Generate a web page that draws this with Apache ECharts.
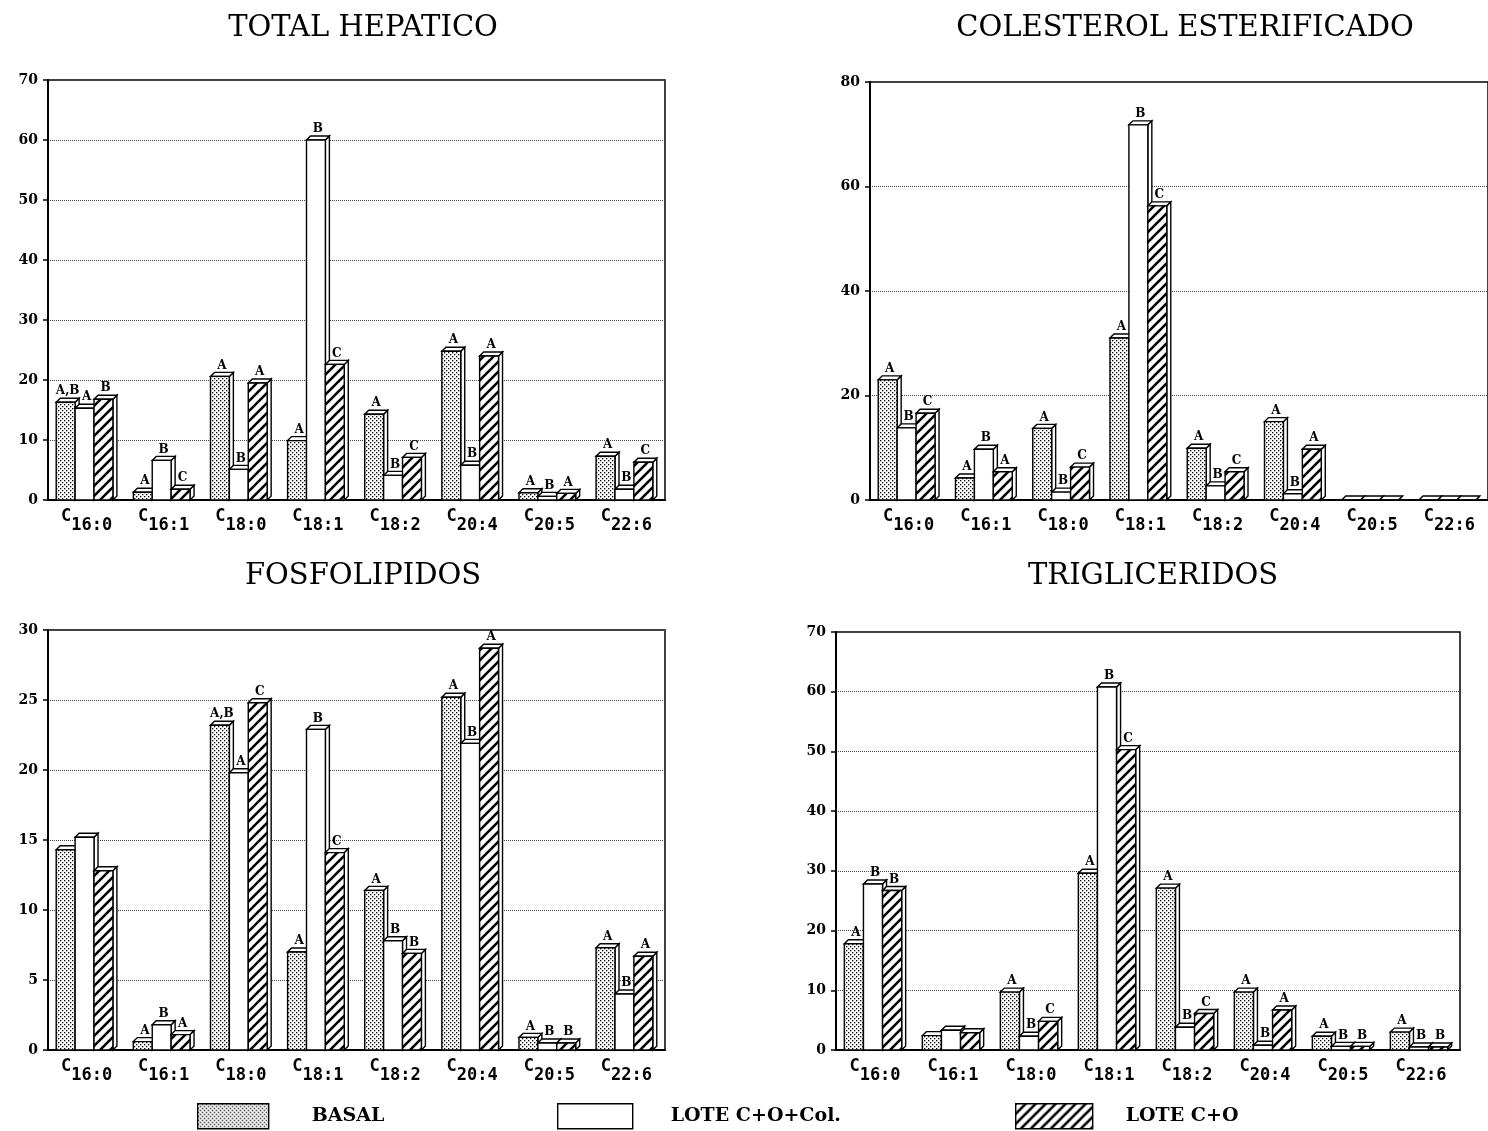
<!DOCTYPE html>
<html>
<head>
<meta charset="utf-8">
<script src="https://cdn.jsdelivr.net/npm/echarts@6/dist/echarts.min.js"></script>
<style>
  html, body { margin: 0; padding: 0; background: #fff; }
  #chart { width: 1488px; height: 1131px; }
</style>
</head>
<body>
<div id="chart"></div>
<script>
// ---------- DATA ----------
const categories = ['C16:0', 'C16:1', 'C18:0', 'C18:1', 'C18:2', 'C20:4', 'C20:5', 'C22:6'];
const seriesNames = ['BASAL', 'LOTE C+O+Col.', 'LOTE C+O'];
const panelTitles = ['TOTAL HEPATICO', 'COLESTEROL ESTERIFICADO', 'FOSFOLIPIDOS', 'TRIGLICERIDOS'];

// Panel 1: TOTAL HEPATICO
const hepBasal = [16.3, 1.3, 20.6, 9.9, 14.3, 24.8, 1.2, 7.3];
const hepCol   = [15.3, 6.6, 5.1, 60.0, 4.1, 5.8, 0.6, 1.8];
const hepCO    = [16.8, 1.8, 19.5, 22.6, 7.1, 24.0, 1.1, 6.3];
const hepBasalLet = ['A,B', 'A', 'A', 'A', 'A', 'A', 'A', 'A'];
const hepColLet   = ['A', 'B', 'B', 'B', 'B', 'B', 'B', 'B'];
const hepCOLet    = ['B', 'C', 'A', 'C', 'C', 'A', 'A', 'C'];

// Panel 2: COLESTEROL ESTERIFICADO
const ceBasal = [23.0, 4.2, 13.7, 31.0, 9.9, 15.0, 0, 0];
const ceCol   = [13.8, 9.7, 1.5, 71.8, 2.7, 1.2, 0, 0];
const ceCO    = [16.6, 5.4, 6.3, 56.3, 5.4, 9.7, 0, 0];
const ceBasalLet = ['A', 'A', 'A', 'A', 'A', 'A', '', ''];
const ceColLet   = ['B', 'B', 'B', 'B', 'B', 'B', '', ''];
const ceCOLet    = ['C', 'A', 'C', 'C', 'C', 'A', '', ''];

// Panel 3: FOSFOLIPIDOS
const fosBasal = [14.3, 0.6, 23.2, 7.0, 11.4, 25.2, 0.9, 7.3];
const fosCol   = [15.2, 1.8, 19.8, 22.9, 7.8, 21.9, 0.5, 4.0];
const fosCO    = [12.8, 1.1, 24.8, 14.1, 6.9, 28.7, 0.5, 6.7];
const fosBasalLet = ['', 'A', 'A,B', 'A', 'A', 'A', 'A', 'A'];
const fosColLet   = ['', 'B', 'A', 'B', 'B', 'B', 'B', 'B'];
const fosCOLet    = ['', 'A', 'C', 'C', 'B', 'A', 'B', 'A'];

// Panel 4: TRIGLICERIDOS
const triBasal = [17.8, 2.4, 9.7, 29.6, 27.1, 9.7, 2.3, 3.0];
const triCol   = [27.8, 3.3, 2.3, 60.8, 3.8, 0.8, 0.6, 0.5];
const triCO    = [26.7, 2.9, 4.8, 50.3, 6.1, 6.7, 0.6, 0.5];
const triBasalLet = ['A', '', 'A', 'A', 'A', 'A', 'A', 'A'];
const triColLet   = ['B', '', 'B', 'B', 'B', 'B', 'B', 'B'];
const triCOLet    = ['B', '', 'C', 'C', 'C', 'A', 'B', 'B'];

const yMax = [70, 80, 30, 70];
const yInterval = [10, 20, 5, 10];

// ---------- PATTERNS ----------
function dotPattern() {
  const c = document.createElement('canvas'); c.width = 4; c.height = 4;
  const g = c.getContext('2d');
  g.fillStyle = '#fff'; g.fillRect(0, 0, 4, 4);
  g.fillStyle = '#000'; g.fillRect(0, 0, 1.3, 1.3); g.fillRect(2, 2, 1.3, 1.3);
  return { image: c, repeat: 'repeat' };
}
function hatchPattern() {
  const s = 10;
  const c = document.createElement('canvas'); c.width = s; c.height = s;
  const g = c.getContext('2d');
  g.fillStyle = '#fff'; g.fillRect(0, 0, s, s);
  g.strokeStyle = '#000'; g.lineWidth = 2.6;
  g.beginPath();
  g.moveTo(-1, s + 1); g.lineTo(s + 1, -1);
  g.moveTo(-s / 2 - 1, s / 2 + 1); g.lineTo(s / 2 + 1, -s / 2 - 1);
  g.moveTo(s / 2 - 1, 1.5 * s + 1); g.lineTo(1.5 * s + 1, s / 2 - 1);
  g.stroke();
  return { image: c, repeat: 'repeat' };
}
const fills = [dotPattern(), '#ffffff', hatchPattern()];

// ---------- BUILD ----------
const panels = [
  [hepBasal, hepCol, hepCO, hepBasalLet, hepColLet, hepCOLet],
  [ceBasal, ceCol, ceCO, ceBasalLet, ceColLet, ceCOLet],
  [fosBasal, fosCol, fosCO, fosBasalLet, fosColLet, fosCOLet],
  [triBasal, triCol, triCO, triBasalLet, triColLet, triCOLet]
];

const grids = [
  { left: 48, top: 80, width: 617, height: 420 },
  { left: 870, top: 82, right: 0, height: 418 },
  { left: 48, top: 630, width: 617, height: 420 },
  { left: 836, top: 632, width: 624, height: 418 }
];

function makeRender(k, letters) {
  return function (params, api) {
    const ci = api.value(0), v = api.value(1);
    const top = api.coord([ci, v]);
    const base = api.coord([ci, 0]);
    const band = api.size([1, 0])[0];
    const w = band * 0.245, d = 4;
    const x = top[0] + (k - 1.5) * w - d / 2;
    const yT = top[1], y0 = base[1];
    const lineStyle = { stroke: '#000', lineWidth: 1.4 };
    const children = [
      { type: 'polygon', shape: { points: [[x + w, yT], [x + w + d, yT - d], [x + w + d, y0 - d], [x + w, y0]] },
        style: Object.assign({ fill: '#fff' }, lineStyle) },
      { type: 'polygon', shape: { points: [[x, yT], [x + d, yT - d], [x + w + d, yT - d], [x + w, yT]] },
        style: Object.assign({ fill: '#fff' }, lineStyle) },
      { type: 'rect', shape: { x: x, y: yT, width: w, height: Math.max(0, y0 - yT) },
        style: Object.assign({ fill: fills[k] }, lineStyle) }
    ];
    const t = letters[params.dataIndex];
    if (t) {
      children.push({ type: 'text', style: {
        text: t, x: x + w / 2 + d / 2, y: yT - d - 1, align: 'center', verticalAlign: 'bottom',
        fontSize: 12, fontWeight: 'bold', fontFamily: 'DejaVu Serif', fill: '#000' } });
    }
    return { type: 'group', children: children };
  };
}

const xAxes = [], yAxes = [], series = [];
panels.forEach((p, gi) => {
  xAxes.push({
    type: 'category', gridIndex: gi, data: categories,
    axisLine: { lineStyle: { color: '#000', width: 2 } },
    axisTick: { show: false },
    axisLabel: {
      margin: 8, interval: 0,
      formatter: v => '{c|C}{s|' + v.slice(1) + '}',
      rich: {
        c: { fontFamily: 'DejaVu Sans Mono', fontSize: 17, fontWeight: 'bold', color: '#000', padding: [0, 0, 9, 0] },
        s: { fontFamily: 'DejaVu Sans Mono', fontSize: 17, fontWeight: 'bold', color: '#000', padding: [9, 0, 0, 0] }
      }
    }
  });
  yAxes.push({
    type: 'value', gridIndex: gi, min: 0, max: yMax[gi], interval: yInterval[gi],
    axisLine: { show: true, lineStyle: { color: '#000', width: 2 } },
    axisTick: { show: true, length: 5, lineStyle: { color: '#000', width: 1.5 } },
    axisLabel: { margin: 10, fontFamily: 'DejaVu Serif', fontWeight: 'bold', fontSize: 14, color: '#000' },
    splitLine: { show: true, lineStyle: { color: '#444', type: 'dotted', width: 1 } }
  });
  for (let k = 0; k < 3; k++) {
    series.push({
      type: 'custom', name: seriesNames[k], xAxisIndex: gi, yAxisIndex: gi,
      itemStyle: { color: fills[k], borderColor: '#000', borderWidth: 1.4 },
      data: p[k].map((v, i) => [i, v]),
      renderItem: makeRender(k, p[k + 3]),
      clip: false
    });
  }
});

const titleStyle = { fontFamily: 'DejaVu Serif', fontWeight: 'normal', fontSize: 29, color: '#000' };
const legendText = { fontFamily: 'DejaVu Serif', fontWeight: 'bold', fontSize: 19, color: '#000' };

const option = {
  animation: false,
  backgroundColor: '#fff',
  title: [
    { text: panelTitles[0], left: 358, top: 9, textAlign: 'center', textStyle: titleStyle },
    { text: panelTitles[1], left: 1180, top: 9, textAlign: 'center', textStyle: titleStyle },
    { text: panelTitles[2], left: 358, top: 557, textAlign: 'center', textStyle: titleStyle },
    { text: panelTitles[3], left: 1148, top: 557, textAlign: 'center', textStyle: titleStyle }
  ],
  legend: [
    { left: 192, top: 1098, itemWidth: 71, itemHeight: 25, icon: 'rect',
      data: [{ name: seriesNames[0], itemStyle: { color: fills[0], borderColor: '#000', borderWidth: 1.4 } }],
      textStyle: Object.assign({ padding: [0, 0, 0, 38] }, legendText) },
    { left: 552, top: 1098, itemWidth: 75, itemHeight: 25, icon: 'rect',
      data: [{ name: seriesNames[1], itemStyle: { color: fills[1], borderColor: '#000', borderWidth: 1.4 } }],
      textStyle: Object.assign({ padding: [0, 0, 0, 33] }, legendText) },
    { left: 1010, top: 1098, itemWidth: 77, itemHeight: 25, icon: 'rect',
      data: [{ name: seriesNames[2], itemStyle: { color: fills[2], borderColor: '#000', borderWidth: 1.4 } }],
      textStyle: Object.assign({ padding: [0, 0, 0, 28] }, legendText) }
  ],
  grid: grids.map(g => Object.assign({ show: true, borderColor: '#000', borderWidth: 1.5, containLabel: false }, g)),
  xAxis: xAxes,
  yAxis: yAxes,
  series: series
};

const chart = echarts.init(document.getElementById('chart'), null, { renderer: 'canvas' });
chart.setOption(option);
</script>
</body>
</html>
